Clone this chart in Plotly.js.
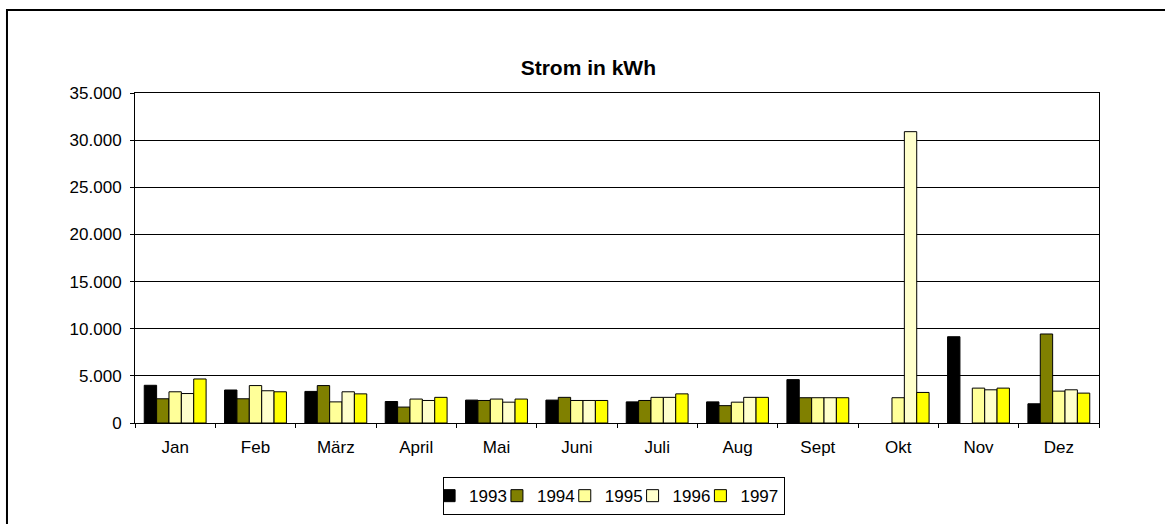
<!DOCTYPE html>
<html>
<head>
<meta charset="utf-8">
<script src="https://cdn.plot.ly/plotly-3.0.1.min.js"></script>
<style>
  html, body { margin: 0; padding: 0; background: #fff; }
  #chart { width: 1165px; height: 524px; }
</style>
</head>
<body>
<div id="chart"></div>
<script>
// Monatswerte Strom in kWh, 1993-1997
const months = ['Jan', 'Feb', 'März', 'April', 'Mai', 'Juni', 'Juli', 'Aug', 'Sept', 'Okt', 'Nov', 'Dez'];
const years = ['1993', '1994', '1995', '1996', '1997'];

const y1993 = [4000, 3500, 3350, 2280, 2430, 2430, 2240, 2240, 4600, null, 9150, 2040];
const y1994 = [2570, 2570, 3970, 1690, 2390, 2720, 2390, 1840, 2680, null, null, 9440];
const y1995 = [3310, 3970, 2240, 2540, 2540, 2390, 2720, 2210, 2680, 2680, 3700, 3380];
const y1996 = [3125, 3420, 3310, 2390, 2210, 2390, 2720, 2720, 2680, 30900, 3520, 3520];
const y1997 = [4670, 3310, 3090, 2720, 2540, 2390, 3090, 2720, 2680, 3240, 3700, 3170];

const colors = ['#000000', '#808000', '#FFFF99', '#FFFFCC', '#FFFF00'];

const series = [y1993, y1994, y1995, y1996, y1997];

const traces = series.map((vals, i) => ({
  type: 'bar',
  name: years[i],
  x: months,
  y: vals,
  marker: { color: colors[i], line: { color: '#000', width: 1 } }
}));

const font = 'Liberation Sans, Arial, sans-serif';

const layout = {
  width: 1165,
  height: 524,
  margin: { l: 135, r: 66, t: 93, b: 101, autoexpand: false },
  paper_bgcolor: '#fff',
  plot_bgcolor: '#fff',
  font: { family: font, size: 17, color: '#000' },
  separators: ',.',
  barmode: 'group',
  bargap: 0.23,
  bargroupgap: 0,
  title: {
    text: '<b>Strom in kWh</b>',
    font: { family: font, size: 21, color: '#000' },
    xref: 'container', yref: 'container',
    x: 0.505, xanchor: 'center',
    y: 0.87, yanchor: 'middle'
  },
  xaxis: {
    type: 'category',
    showline: true, linecolor: '#000', linewidth: 1, mirror: true,
    ticks: 'outside', tickson: 'boundaries', ticklen: 4, tickcolor: '#000',
    ticklabelstandoff: 9,
    showgrid: false,
    fixedrange: true
  },
  yaxis: {
    range: [0, 35000],
    dtick: 5000,
    tickformat: ',d',
    separatethousands: true,
    showline: true, linecolor: '#000', linewidth: 1, mirror: true,
    ticks: 'outside', ticklen: 4, tickcolor: '#000',
    ticklabelstandoff: 5,
    showgrid: true, gridcolor: '#000', gridwidth: 1,
    zeroline: false,
    fixedrange: true
  },
  showlegend: true,
  legend: {
    orientation: 'h',
    x: 0.497, xanchor: 'center',
    y: -0.164, yanchor: 'top',
    bordercolor: '#000', borderwidth: 1,
    bgcolor: '#fff',
    font: { family: font, size: 17, color: '#000' },
    itemwidth: 30,
    indentation: -15,
    traceorder: 'normal'
  },
  shapes: [{
    type: 'rect', xref: 'paper', yref: 'paper',
    x0: -0.1328, x1: 1.15, y0: -0.35, y1: 1.2515,
    line: { color: '#000', width: 2 }
  }]
};

Plotly.newPlot('chart', traces, layout, { displayModeBar: false, staticPlot: true });
</script>
</body>
</html>
